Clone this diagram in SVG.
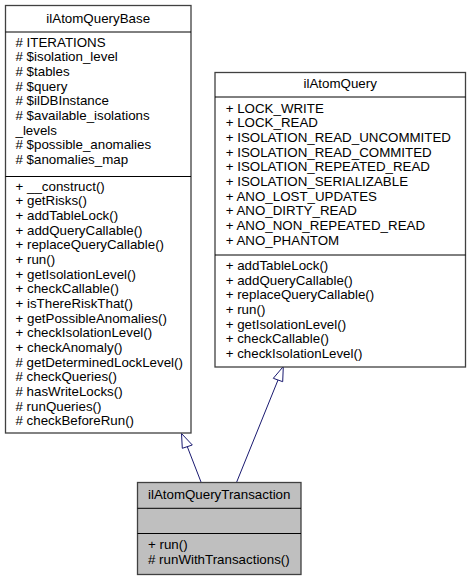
<svg xmlns="http://www.w3.org/2000/svg" width="471" height="580" viewBox="0 0 471 580">
<style>
text{font-family:"Liberation Sans",Arial,sans-serif;font-size:13.33px;fill:#000}
.c{text-anchor:middle}
.box{fill:#fff;stroke:#404040;stroke-width:1.3}
.cur{fill:#bfbfbf;stroke:#404040;stroke-width:1.3}
.sep{stroke:#000;stroke-width:1}
.edge{stroke:#191970;stroke-width:1;fill:none}
.head{fill:#fff;stroke:#191970;stroke-width:1}
</style>
<rect width="471" height="580" fill="#fff"/>
<g id="connectors">
<path class="edge" d="M201,482 L187.3,446.7"/>
<polygon class="head" points="181.5,433.5 182.3,448.3 192.3,445"/>
<path class="edge" d="M236.7,482 L278,380"/>
<polygon class="head" points="283.3,366.5 273.3,378.3 282.7,381.7"/>
</g>
<g id="ilAtomQueryBase">
<rect class="box" x="5.5" y="5.5" width="185.5" height="427.5"/>
<line class="sep" x1="5.5" y1="32" x2="191" y2="32"/>
<line class="sep" x1="5.5" y1="176.5" x2="191" y2="176.5"/>
<text class="c" x="98.2" y="22.5">ilAtomQueryBase</text>
<text x="15.5" y="46.5"># ITERATIONS</text>
<text x="15.5" y="61.2"># $isolation_level</text>
<text x="15.5" y="75.8"># $tables</text>
<text x="15.5" y="90.5"># $query</text>
<text x="15.5" y="105.2"># $ilDBInstance</text>
<text x="15.5" y="119.8"># $available_isolations</text>
<text x="15.5" y="134.5">_levels</text>
<text x="15.5" y="149.2"># $possible_anomalies</text>
<text x="15.5" y="163.8"># $anomalies_map</text>
<text x="15.5" y="190.5">+ __construct()</text>
<text x="15.5" y="205.2">+ getRisks()</text>
<text x="15.5" y="219.8">+ addTableLock()</text>
<text x="15.5" y="234.5">+ addQueryCallable()</text>
<text x="15.5" y="249.2">+ replaceQueryCallable()</text>
<text x="15.5" y="263.8">+ run()</text>
<text x="15.5" y="278.5">+ getIsolationLevel()</text>
<text x="15.5" y="293.2">+ checkCallable()</text>
<text x="15.5" y="307.8">+ isThereRiskThat()</text>
<text x="15.5" y="322.5">+ getPossibleAnomalies()</text>
<text x="15.5" y="337.2">+ checkIsolationLevel()</text>
<text x="15.5" y="351.8">+ checkAnomaly()</text>
<text x="15.5" y="366.5"># getDeterminedLockLevel()</text>
<text x="15.5" y="381.2"># checkQueries()</text>
<text x="15.5" y="395.8"># hasWriteLocks()</text>
<text x="15.5" y="410.5"># runQueries()</text>
<text x="15.5" y="425.2"># checkBeforeRun()</text>
</g>
<g id="ilAtomQuery">
<rect class="box" x="215" y="72.5" width="250.5" height="294.5"/>
<line class="sep" x1="215" y1="97" x2="465.5" y2="97"/>
<line class="sep" x1="215" y1="255" x2="465.5" y2="255"/>
<text class="c" x="340.2" y="88.3">ilAtomQuery</text>
<text x="225.7" y="112.7">+ LOCK_WRITE</text>
<text x="225.7" y="127.4">+ LOCK_READ</text>
<text x="225.7" y="142">+ ISOLATION_READ_UNCOMMITED</text>
<text x="225.7" y="156.7">+ ISOLATION_READ_COMMITED</text>
<text x="225.7" y="171.4">+ ISOLATION_REPEATED_READ</text>
<text x="225.7" y="186">+ ISOLATION_SERIALIZABLE</text>
<text x="225.7" y="200.7">+ ANO_LOST_UPDATES</text>
<text x="225.7" y="215.4">+ ANO_DIRTY_READ</text>
<text x="225.7" y="230">+ ANO_NON_REPEATED_READ</text>
<text x="225.7" y="244.7">+ ANO_PHANTOM</text>
<text x="225.7" y="270">+ addTableLock()</text>
<text x="225.7" y="284.7">+ addQueryCallable()</text>
<text x="225.7" y="299.3">+ replaceQueryCallable()</text>
<text x="225.7" y="314">+ run()</text>
<text x="225.7" y="328.7">+ getIsolationLevel()</text>
<text x="225.7" y="343.3">+ checkCallable()</text>
<text x="225.7" y="358">+ checkIsolationLevel()</text>
</g>
<g id="ilAtomQueryTransaction">
<rect class="cur" x="137.5" y="482.5" width="163.5" height="92"/>
<line class="sep" x1="137.5" y1="508.3" x2="301" y2="508.3"/>
<line class="sep" x1="137.5" y1="533.5" x2="301" y2="533.5"/>
<text class="c" x="219.2" y="499">ilAtomQueryTransaction</text>
<text x="148" y="549.3">+ run()</text>
<text x="148" y="564"># runWithTransactions()</text>
</g>
</svg>
